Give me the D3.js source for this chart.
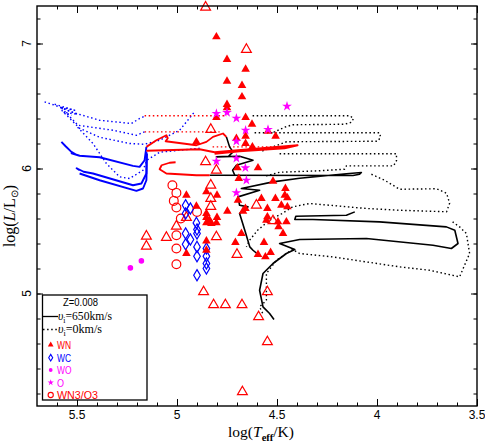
<!DOCTYPE html>
<html><head><meta charset="utf-8">
<script src="https://cdn.jsdelivr.net/npm/d3@7"></script>
<style>body{margin:0;background:#fff}</style></head>
<body><svg id="c" width="485" height="443"></svg>
<script>
// ---------- data (logTeff, logL) ----------
const xTickLabels = ["5.5","5","4.5","4","3.5"];
const xMajor = [5.5,5,4.5,4,3.5];
const yMajor = [5,6,7];
const yTickLabels = ["5","6","7"];

const WN = [[4.803,7.053],[4.750,6.872],[4.657,6.794],[4.750,6.698],[4.675,6.664],[4.675,6.573],
[4.750,6.512],[4.750,6.485],[4.803,6.408],[4.657,6.408],[4.625,6.354],[4.545,6.298],[4.507,6.258],
[4.703,6.240],[4.657,6.258],[4.903,6.213],[4.657,6.200],[4.623,6.173],[4.698,6.005],[4.595,6.005],
[4.691,5.920],[4.520,5.898],[4.458,5.840],[4.461,5.786],[4.578,5.760],[4.508,5.760],[4.448,5.765],
[4.695,5.746],[4.658,5.680],[4.670,5.658],[4.548,5.680],[4.478,5.706],[4.448,5.693],[4.548,5.613],
[4.553,5.586],[4.495,5.573],[4.492,5.533],[4.453,5.573],[4.470,5.480],[4.678,5.480],[4.748,5.658],
[4.708,5.408],[4.565,5.408],[4.595,5.312],[4.558,5.293],[4.532,5.328],[4.953,5.786],[4.853,5.813],
[4.800,5.786],[4.903,5.698],[4.853,5.640],[4.853,5.608],[4.837,5.586],[4.853,5.565],[4.828,5.560],
[4.800,5.608],[4.803,5.565],[4.953,5.320],[4.853,5.420],[4.853,5.346]];

const WNopen = [[4.857,7.29],[4.653,6.952],[4.831,6.312],[4.857,6.053],[4.803,5.986],[4.831,5.866],
[4.831,5.760],[4.831,5.696],[4.953,5.608],[5.003,5.538],[5.153,5.458],[5.153,5.378],[5.053,5.448],
[4.803,5.453],[4.603,5.706],[4.520,5.581],[4.700,5.312],[4.867,5.013],[4.817,4.909],[4.758,4.909],
[4.675,4.909],[4.592,4.813],[4.548,5.013],[4.548,4.613],[4.673,4.213]];

const WN3O3 = [[5.023,5.866],[5.003,5.805],[5.016,5.741],[5.003,5.688],[4.981,5.600],[5.003,5.466],
[5.003,5.360],[5.003,5.234],[4.900,5.653]];

const WC = [[4.957,5.706],[4.933,5.680],[4.957,5.640],[4.903,5.565],[4.900,5.512],[4.900,5.480],
[4.957,5.480],[4.933,5.432],[4.957,5.394],[4.900,5.373],[4.900,5.298],[4.853,5.360],[4.853,5.298],
[4.853,5.240],[4.853,5.200],[4.900,5.146]];

const Ostars = [[4.803,6.440],[4.750,6.448],[4.703,6.402],[4.450,6.498],[4.657,6.306],[4.545,6.312],
[4.703,6.218],[4.803,6.058],[4.703,6.082],[4.658,6.005],[4.653,5.906],[4.703,5.806]];

const WO = [[5.233,5.205],[5.178,5.261]];

// tracks: v=650 km/s (solid) and v=0 (dotted); colour = phase
const blueSolid = [
[[5.578,6.213],[5.557,6.178],[5.528,6.133],[5.507,6.114],[5.527,6.122],[5.487,6.102],[5.387,6.090],[5.220,6.021],[5.187,6.013],[5.162,6.066],[5.153,6.173]],
[[5.487,5.987],[5.502,6.002],[5.467,5.974],[5.420,5.960],[5.220,5.866],[5.178,5.880],[5.153,5.960],[5.153,6.133]],
[[5.487,5.960],[5.387,5.906],[5.203,5.821],[5.170,5.840],[5.153,5.906],[5.150,6.120]]];
const blueDot = [
[[5.662,6.533],[5.578,6.488],[5.537,6.458],[5.503,6.440],[5.387,6.386],[5.228,6.360],[5.187,6.400],[5.162,6.418]],
[[5.577,6.482],[5.495,6.346],[5.320,6.306],[5.203,6.266],[5.162,6.293]],
[[5.577,6.466],[5.487,6.322],[5.387,6.250],[5.237,6.200],[5.162,6.194],[5.087,6.226],[4.987,6.306],[4.912,6.453]],
[[5.497,6.330],[5.420,6.200],[5.353,6.040],[5.287,5.933],[5.237,5.920],[5.170,5.986],[5.151,6.066],[5.087,6.130],[4.887,6.162]],
[[5.612,6.514],[5.512,6.466],[5.587,6.490],[5.497,6.434],[5.567,6.450],[5.527,6.426]]];
const redSolid = [
[[5.153,6.173],[5.103,6.226],[5.053,6.266],[5.046,6.242],[5.057,6.218],[4.970,6.200],[4.903,6.186],[4.853,6.213],[4.820,6.253],[4.770,6.280],[4.753,6.253]],
[[5.153,6.142],[4.887,6.154],[4.812,6.130],[4.637,6.154],[4.397,6.186],[4.462,6.162],[4.687,6.138],[4.812,6.118]],
[[4.837,5.946],[4.903,5.946],[5.053,5.960],[5.087,5.994],[5.077,6.026],[5.037,6.046],[5.007,6.050]]];
const redDot = [
[[5.162,6.422],[4.751,6.422]],
[[5.162,6.293],[4.787,6.293]],
[[4.822,6.173],[4.502,6.173]]];
const blackSolid = [
[[4.753,6.253],[4.737,6.173],[4.720,6.133],[4.742,6.098],[4.803,6.093],[4.687,6.098],[4.620,6.066],[4.703,6.026],[4.722,5.986],[4.711,5.946]],
[[4.837,5.946],[4.120,5.944],[4.087,5.954],[4.078,5.968],[4.153,5.958],[4.387,5.922],[4.520,5.893],[4.678,5.840],[4.587,5.826],[4.695,5.773],[4.687,5.706],[4.645,5.693],[4.687,5.640],[4.661,5.506],[4.636,5.373],[4.620,5.346],[4.602,5.322]],
[[4.515,4.792],[4.537,4.840],[4.570,4.893],[4.587,5.026],[4.570,5.160],[4.520,5.240],[4.453,5.320],[4.411,5.352],[4.487,5.400],[4.387,5.432],[4.053,5.440],[3.720,5.386],[3.628,5.360],[3.595,5.400],[3.611,5.506],[3.653,5.533],[3.987,5.573],[4.320,5.592],[4.411,5.592],[4.406,5.618],[4.153,5.626],[4.111,5.653]]];
const blackDot = [
[[4.622,6.422],[4.137,6.422],[4.117,6.402],[4.127,6.370],[4.162,6.354],[4.422,6.350],[4.462,6.330],[4.527,6.282]],
[[4.612,6.286],[3.987,6.286],[3.982,6.250],[3.997,6.218],[4.452,6.214],[4.512,6.178],[4.577,6.138]],
[[4.487,6.118],[3.903,6.118],[3.902,6.066],[3.917,6.021],[4.153,6.021],[4.162,5.994],[4.287,5.982],[4.487,5.970],[4.562,5.938]],
[[4.028,5.954],[3.962,5.906],[3.887,5.834],[3.702,5.838],[3.652,5.802],[3.637,5.722],[3.652,5.654],[3.887,5.666],[4.052,5.680],[4.337,5.720],[4.422,5.693],[4.472,5.642],[4.537,5.586],[4.597,5.506],[4.637,5.426],[4.653,5.373]],
[[4.572,4.842],[4.587,4.893],[4.553,4.946],[4.553,5.026],[4.553,5.160],[4.503,5.266],[4.453,5.320],[4.422,5.352],[4.387,5.320],[4.222,5.293],[3.887,5.213],[3.737,5.186],[3.587,5.133],[3.537,5.320],[3.553,5.480],[3.587,5.533],[3.622,5.573]]];

// ---------- drawing ----------
const L0=37,R0=477,T0=6,B0=406;
const svg=d3.select('#c');
const x=d3.scaleLinear().domain([5.7,3.5]).range([L0,R0]);
const y=d3.scaleLinear().domain([4.1,7.3]).range([B0,T0]);
const line=d3.line().x(d=>x(d[0])).y(d=>y(d[1]));
const RED='#ff0000', BLUE='#0000ff', MAG='#ff00ff';

svg.append('defs').append('clipPath').attr('id','clip').append('rect')
  .attr('x',L0).attr('y',T0).attr('width',R0-L0).attr('height',B0-T0);
const g=svg.append('g').attr('clip-path','url(#clip)');

function tracks(arr,color,dotted,w){
  g.selectAll(null).data(arr).enter().append('path').attr('d',line)
   .attr('fill','none').attr('stroke',color).attr('stroke-width',w)
   .attr('stroke-linejoin','round')
   .attr('stroke-dasharray',dotted?'1.5,2.6':null);
}
tracks(blackDot,'#000',true,1.4);
tracks(blueDot,BLUE,true,1.4);
tracks(redDot,RED,true,1.4);
tracks(blackSolid,'#000',false,1.6);
tracks(blueSolid,BLUE,false,1.9);
tracks(redSolid,RED,false,1.8);

const tri=d3.symbol().type(d3.symbolTriangle);
const pts=svg.append('g');
pts.selectAll(null).data(WNopen).enter().append('path')
  .attr('d',tri.size(42)()).attr('transform',d=>`translate(${x(d[0])},${y(d[1])})`)
  .attr('fill','none').attr('stroke',RED).attr('stroke-width',1.2);
pts.selectAll(null).data(WN3O3).enter().append('circle')
  .attr('cx',d=>x(d[0])).attr('cy',d=>y(d[1])).attr('r',4.4)
  .attr('fill','none').attr('stroke',RED).attr('stroke-width',1.2);
const dia='M0,-5.6L3.3,0L0,5.6L-3.3,0Z';
pts.selectAll(null).data(WC).enter().append('path').attr('d',dia)
  .attr('transform',d=>`translate(${x(d[0])},${y(d[1])})`)
  .attr('fill','none').attr('stroke',BLUE).attr('stroke-width',1.2);
pts.selectAll(null).data(WN).enter().append('path')
  .attr('d',d3.symbol().type(d3.symbolTriangle).size(32)()).attr('transform',d=>`translate(${x(d[0])},${y(d[1])})`)
  .attr('fill',RED);
pts.selectAll(null).data(WO).enter().append('circle')
  .attr('cx',d=>x(d[0])).attr('cy',d=>y(d[1])).attr('r',2.8).attr('fill',MAG);
pts.selectAll(null).data(Ostars).enter().append('path')
  .attr('d',d3.symbol().type(d3.symbolStar).size(30)()).attr('transform',d=>`translate(${x(d[0])},${y(d[1])})`)
  .attr('fill',MAG);

// axes (inward ticks on all four sides)
const xMinor=d3.range(35,57).map(v=>v/10), yMinor=d3.range(21,37).map(v=>v*0.2).filter(v=>v<=7.3);
function ax(gen,scale,vals,size,tr){
  svg.append('g').attr('transform',tr).call(gen(scale).tickValues(vals).tickSize(size).tickFormat(''))
   .call(s=>s.select('.domain').remove())
   .call(s=>s.selectAll('line').attr('stroke-width',1));
}
ax(d3.axisBottom,x,xMinor,-3.5,`translate(0,${B0})`);
ax(d3.axisBottom,x,xMajor,-7,`translate(0,${B0})`);
ax(d3.axisTop,x,xMinor,-3.5,`translate(0,${T0})`);
ax(d3.axisTop,x,xMajor,-7,`translate(0,${T0})`);
ax(d3.axisLeft,y,yMinor,-3.5,`translate(${L0},0)`);
ax(d3.axisLeft,y,yMajor,-6,`translate(${L0},0)`);
ax(d3.axisRight,y,yMinor,-3.5,`translate(${R0},0)`);
ax(d3.axisRight,y,yMajor,-6,`translate(${R0},0)`);
svg.append('rect').attr('x',L0).attr('y',T0).attr('width',R0-L0).attr('height',B0-T0)
  .attr('fill','none').attr('stroke','#000').attr('stroke-width',1.4);

const sans='"Liberation Sans", Arial, sans-serif', serif='"Liberation Serif","Times New Roman",serif';
svg.selectAll(null).data(xMajor).enter().append('text')
  .attr('x',d=>x(d)).attr('y',419).attr('text-anchor','middle')
  .attr('font-family',sans).attr('font-size',12).text((d,i)=>xTickLabels[i]);
svg.selectAll(null).data(yMajor).enter().append('text')
  .attr('transform',d=>`translate(31,${y(d)}) rotate(-90)`).attr('text-anchor','middle')
  .attr('font-family',sans).attr('font-size',12).text((d,i)=>yTickLabels[i]);

// axis titles
const xt=svg.append('text').attr('x',261).attr('y',437).attr('text-anchor','middle')
  .attr('font-family',serif).attr('font-size',15.5);
xt.append('tspan').text('log(');
xt.append('tspan').attr('font-style','italic').text('T');
xt.append('tspan').attr('font-size',10.5).attr('font-weight','bold').attr('dy',3.5).text('eff');
xt.append('tspan').attr('dy',-3.5).text('/K)');
const yt=svg.append('text').attr('transform','translate(15,216) rotate(-90)').attr('text-anchor','middle')
  .attr('font-family',serif).attr('font-size',16);
yt.append('tspan').text('log(');
yt.append('tspan').attr('font-style','italic').text('L');
yt.append('tspan').text('/L');
yt.append('tspan').attr('font-size',10).attr('dy',3).text('⊙');
yt.append('tspan').attr('dy',-3).text(')');

// legend
const lg=svg.append('g');
lg.append('rect').attr('x',42.5).attr('y',295).attr('width',104.5).attr('height',105)
  .attr('fill','#fff').attr('stroke','#000').attr('stroke-width',1.3);
lg.append('text').attr('x',63).attr('y',306).attr('font-family',sans).attr('font-size',10.5)
  .attr('textLength',35).attr('lengthAdjust','spacingAndGlyphs').text('Z=0.008');
lg.append('line').attr('x1',43).attr('x2',58).attr('y1',316.5).attr('y2',316.5).attr('stroke','#000').attr('stroke-width',1.3);
lg.append('line').attr('x1',43).attr('x2',58).attr('y1',329.5).attr('y2',329.5).attr('stroke','#000').attr('stroke-width',1.3).attr('stroke-dasharray','1.5,2.6');
function vlab(yy,val,len){
  const t=lg.append('text').attr('x',58).attr('y',yy).attr('font-family',serif).attr('font-size',12)
   .attr('textLength',len).attr('lengthAdjust','spacingAndGlyphs');
  t.append('tspan').attr('font-style','italic').text('υ');
  t.append('tspan').attr('font-size',8).attr('dy',2.5).text('i');
  t.append('tspan').attr('dy',-2.5).text('='+val+'km/s');
}
vlab(320,'650',54); vlab(333,'0',44);
const legItems=[['WN',RED,344.5,14],['WC',BLUE,357.5,14],['WO',MAG,370,14.5],['O',MAG,382.5,7],['WN3/O3',RED,395,41]];
lg.selectAll(null).data(legItems).enter().append('text')
  .attr('x',57).attr('y',d=>d[2]+4).attr('fill',d=>d[1]).attr('font-family',sans).attr('font-size',11.5)
  .attr('textLength',d=>d[3]).attr('lengthAdjust','spacingAndGlyphs').text(d=>d[0]);
lg.append('path').attr('d',d3.symbol().type(d3.symbolTriangle).size(14)()).attr('transform','translate(50.7,344.8)').attr('fill',RED);
lg.append('path').attr('d','M0,-3.3L2,0L0,3.3L-2,0Z').attr('transform','translate(50.7,357.7)').attr('fill','none').attr('stroke',BLUE).attr('stroke-width',1.1);
lg.append('circle').attr('cx',50.7).attr('cy',370).attr('r',1.9).attr('fill',MAG);
lg.append('path').attr('d',d3.symbol().type(d3.symbolStar).size(12)()).attr('transform','translate(50.7,382.5)').attr('fill',MAG);
lg.append('circle').attr('cx',50.7).attr('cy',395).attr('r',2.6).attr('fill','none').attr('stroke',RED).attr('stroke-width',1.1);
</script></body></html>
